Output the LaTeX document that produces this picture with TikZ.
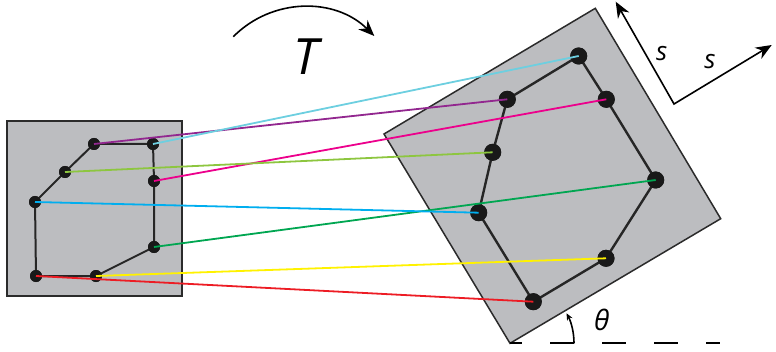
\documentclass[tikz,border=0pt]{standalone}
\usepackage{fontspec}
\setmainfont{Open Sans}
\usetikzlibrary{arrows.meta}

\definecolor{platefill}{HTML}{BCBDC0}
\definecolor{plateedge}{HTML}{2B2B2B}
\definecolor{cpurple}{HTML}{92278F}
\definecolor{ccyan}{HTML}{6DCFE0}
\definecolor{cmagenta}{HTML}{EC008C}
\definecolor{cgreen}{HTML}{00A651}
\definecolor{cyellow}{HTML}{FFF200}
\definecolor{cred}{HTML}{ED1C24}
\definecolor{cblue}{HTML}{00AEEF}
\definecolor{clime}{HTML}{8DC63F}

\begin{document}
\begin{tikzpicture}[x=1pt, y=1pt,
    plate/.style={draw=plateedge, line width=1.5pt, fill=platefill},
    shapeline/.style={line width=2pt, black!85},
    dotl/.style={circle, fill=black!90, inner sep=0pt, minimum size=12pt},
    dotr/.style={circle, fill=black!90, inner sep=0pt, minimum size=17pt},
    link/.style={line width=1.8pt},
    arr/.style={line width=1.6pt, -{Stealth[length=16pt, width=13pt]}},
    lbl/.style={font=\itshape\fontsize{26}{26}\selectfont}
  ]
    \useasboundingbox (0,0) rectangle (776,351);

    % Platten
    \draw[plate] (7,55) rectangle (182,230);
    \draw[plate] (510,7.7) -- (720.7,132.3) -- (595.3,342.7) -- (384,217) -- cycle;

    % Knoten links
    \node[dotl] (l1) at (94,207) {};
    \node[dotl] (l2) at (153,207) {};
    \node[dotl] (l3) at (154,170) {};
    \node[dotl] (l4) at (154,104) {};
    \node[dotl] (l5) at (96,75) {};
    \node[dotl] (l6) at (36,75) {};
    \node[dotl] (l7) at (35,149) {};
    \node[dotl] (l8) at (65,179) {};

    % Knoten rechts
    \node[dotr] (r1) at (507.3,251.7) {};
    \node[dotr] (r2) at (578.7,295) {};
    \node[dotr] (r3) at (606.3,251.7) {};
    \node[dotr] (r4) at (655.7,171) {};
    \node[dotr] (r5) at (606,92.7) {};
    \node[dotr] (r6) at (533.3,49.3) {};
    \node[dotr] (r7) at (478.7,138.3) {};
    \node[dotr] (r8) at (492.7,198.7) {};

    % Umrisse
    \draw[shapeline] (l1.center) -- (l2.center) -- (l3.center) -- (l4.center)
      -- (l5.center) -- (l6.center) -- (l7.center) -- (l8.center) -- cycle;
    \draw[shapeline, line width=2.4pt] (r1.center) -- (r2.center) -- (r3.center) -- (r4.center)
      -- (r5.center) -- (r6.center) -- (r7.center) -- (r8.center) -- cycle;
    \foreach \i in {1,...,8} {
      \node[dotl] at (l\i) {};
      \node[dotr] at (r\i) {};
    }

    % Zuordnung
    \foreach \i/\c in {1/cpurple,2/ccyan,3/cmagenta,4/cgreen,5/cyellow,6/cred,7/cblue,8/clime}
      \draw[link, \c] (l\i.center) -- (r\i.center);

    % Transformation
    \coordinate (t1) at (233.3,314.3);
    \coordinate (t2) at (374.3,315);
    \draw[arr] (t1) to[bend left=45] (t2);
    \node[font=\itshape\fontsize{50}{50}\selectfont] (T) at (306,294.3) {T};

    % Verschiebung
    \coordinate (s0) at (674,247);
    \coordinate (s1) at (615.7,349.3);
    \coordinate (s2) at (771.7,306);
    \draw[line width=1.6pt, line join=miter, {Stealth[length=16pt, width=13pt]}-{Stealth[length=16pt, width=13pt]}]
      (s1) -- (s0) -- (s2);
    \node[lbl] (sa) at (661.7,297) {s};
    \node[lbl] (sb) at (710,289) {s};

    % Winkel
    \coordinate (w0) at (510,7.7);
    \coordinate (w1) at (720,7.7);
    \draw[line width=1.8pt, dash pattern=on 24pt off 28pt, dash phase=12pt] (w0) -- (w1);
    \draw[line width=1.6pt, -{Stealth[length=7pt, width=6pt]}] (w0) ++(64,0) arc[start angle=0, end angle=28, radius=64];
    \node[font=\itshape\fontsize{28}{28}\selectfont] (th) at (601.7,31) {θ};
  \end{tikzpicture}
\end{document}
